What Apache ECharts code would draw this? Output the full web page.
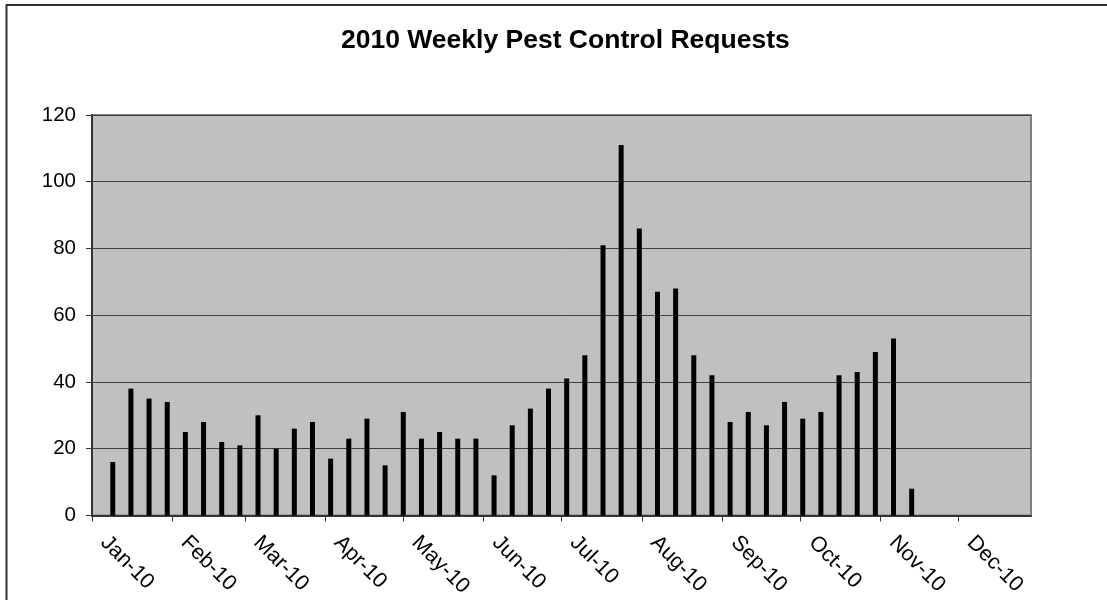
<!DOCTYPE html>
<html>
<head>
<meta charset="utf-8">
<script src="https://cdn.jsdelivr.net/npm/echarts@6/dist/echarts.min.js"></script>
<style>
html,body{margin:0;padding:0;background:#fff;}
#chart{width:1107px;height:600px;}
</style>
</head>
<body>
<div id="chart"></div>
<script>
// Week-ending dates (2010) and request counts
const weekEnding = [
  '2010-01-09','2010-01-16','2010-01-23','2010-01-30','2010-02-06','2010-02-13','2010-02-20','2010-02-27',
  '2010-03-06','2010-03-13','2010-03-20','2010-03-27','2010-04-03','2010-04-10','2010-04-17','2010-04-24',
  '2010-05-01','2010-05-08','2010-05-15','2010-05-22','2010-05-29','2010-06-05','2010-06-12','2010-06-19',
  '2010-06-26','2010-07-03','2010-07-10','2010-07-17','2010-07-24','2010-07-31','2010-08-07','2010-08-14',
  '2010-08-21','2010-08-28','2010-09-04','2010-09-11','2010-09-18','2010-09-25','2010-10-02','2010-10-09',
  '2010-10-16','2010-10-23','2010-10-30','2010-11-06','2010-11-13'
];
const requests = [
  16, 38, 35, 34, 25, 28, 22, 21,
  30, 20, 26, 28, 17, 23, 29, 15,
  31, 23, 25, 23, 23, 12, 27, 32,
  38, 41, 48, 81, 111, 86, 67, 68,
  48, 42, 28, 31, 27, 34, 29, 31,
  42, 43, 49, 53, 8
];
const monthTicks = ['2010-01-01','2010-02-01','2010-03-01','2010-04-01','2010-05-01','2010-06-01',
  '2010-07-01','2010-08-01','2010-09-01','2010-10-01','2010-11-01','2010-12-01'];
const monthNames = ['Jan','Feb','Mar','Apr','May','Jun','Jul','Aug','Sep','Oct','Nov','Dec'];
const yTicks = [0, 20, 40, 60, 80, 100, 120];
const axisStart = '2010-01-01';
const axisEnd = '2010-12-29';

function ts(s){ const p = s.split('-').map(Number); return Date.UTC(p[0], p[1]-1, p[2]); }

const FONT = "'Liberation Sans', Arial, sans-serif";
const chart = echarts.init(document.getElementById('chart'), null, {renderer:'canvas'});
const tickVals = monthTicks.map(ts);

chart.setOption({
  animation: false,
  backgroundColor: '#ffffff',
  title: {
    text: '2010 Weekly Pest Control Requests',
    left: 341, top: 27, padding: 0,
    textStyle: {fontFamily: FONT, fontSize: 26.5, fontWeight: 'bold', color: '#000'}
  },
  graphic: [{
    type: 'rect', silent: true,
    shape: {x: 6.5, y: 5, width: 1300, height: 800},
    style: {fill: 'none', stroke: '#333', lineWidth: 2}
  }],
  grid: {
    left: 92, top: 115, right: 76, bottom: 83,
    show: true, backgroundColor: '#C0C0C0', borderColor: '#808080', borderWidth: 2,
    containLabel: false
  },
  xAxis: {
    type: 'value',
    min: ts(axisStart), max: ts(axisEnd),
    axisLine: {show: true, onZero: false, lineStyle: {color: '#333', width: 2}},
    axisTick: {show: true, length: 6, lineStyle: {color: '#333', width: 1}, customValues: tickVals},
    splitLine: {show: false},
    axisLabel: {
      customValues: tickVals,
      rotate: -45,
      margin: 12,
      padding: [0, 0, 0, 17],
      fontFamily: FONT, fontSize: 21.5, color: '#000',
      hideOverlap: false,
      formatter: function(v){ const d = new Date(v); return monthNames[d.getUTCMonth()] + '-' + String(d.getUTCFullYear()).slice(2); }
    }
  },
  yAxis: {
    type: 'value',
    min: yTicks[0], max: yTicks[yTicks.length-1], interval: 20,
    axisLine: {show: true, lineStyle: {color: '#333', width: 2}},
    axisTick: {show: true, length: 6, lineStyle: {color: '#333', width: 1}},
    splitLine: {show: true, lineStyle: {color: '#404040', width: 1}},
    axisLabel: {margin: 16, fontFamily: FONT, fontSize: 20.5, color: '#000'}
  },
  series: [{
    type: 'bar',
    data: weekEnding.map((d, i) => [ts(d), requests[i]]),
    barWidth: 5,
    itemStyle: {color: '#000'}
  }]
});
</script>
</body>
</html>
